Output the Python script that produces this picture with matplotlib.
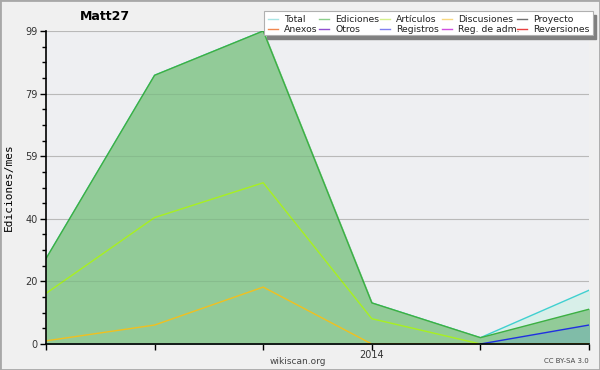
import matplotlib.pyplot as plt
from matplotlib.ticker import FixedLocator, MultipleLocator
from matplotlib.patches import Rectangle

# monthly points, only the 4th one is labelled "2014"
months = [0, 1, 2, 3, 4, 5]
xlabels = ['', '', '', '2014', '', '']

total = [27, 85, 99, 13, 2, 17]
ediciones = [27, 85, 99, 13, 2, 11]
articulos = [16, 40, 51, 8, 0, 0]
discusiones = [1, 6, 18, 0, 0, 0]
registros = [0, 0, 0, 0, 0, 6]

legend_names = ['Total', 'Ediciones', 'Artículos', 'Discusiones', 'Proyecto',
                'Anexos', 'Otros', 'Registros', 'Reg. de adm.', 'Reversiones']
legend_colors = ['#a8e4e4', '#8ccf8c', '#d4f08c', '#f8d880', '#707070',
                 '#f08850', '#9050d0', '#8080f0', '#d050e0', '#e84040']

fig = plt.figure(figsize=(6, 3.7), dpi=100, facecolor='#f0f0f0')
ax = fig.add_axes([46/600, 26/370, 543/600, 313/370])
ax.set_facecolor('#eeeff2')

# areas
ax.fill_between(months, total, color='#d8efe9', zorder=1)
ax.plot(months, total, color='#40d0d0', lw=1, zorder=2)
ax.fill_between(months, ediciones, color='#92cb98', zorder=3)
ax.plot(months, ediciones, color='#3cb043', lw=1, zorder=4)
ax.fill_between(months, registros, color='#80bca8', zorder=5)
ax.plot(months, articulos, color='#a8f020', lw=1, zorder=6)
ax.plot(months, discusiones, color='#f0c020', lw=1, zorder=6)
ax.plot(months[4:], registros[4:], color='#2030e0', lw=1, zorder=7)

ax.set_xlim(0, 5)
ax.set_ylim(0, 99)
ax.set_xticks(months)
ax.set_xticklabels(xlabels, fontsize=7, color='#333333')
yt = [0, 19.8, 39.6, 59.4, 79.2, 99]
ax.yaxis.set_major_locator(FixedLocator(yt))
ax.set_yticklabels(['0', '20', '40', '59', '79', '99'], fontsize=7, color='#333333')
ax.yaxis.set_minor_locator(MultipleLocator(4.95))
ax.tick_params(axis='y', which='major', length=4, width=1, pad=2)
ax.tick_params(axis='y', which='minor', length=3, width=1)
ax.tick_params(axis='x', length=4, width=1, pad=0.5)
for v in yt[1:]:
    ax.axhline(v, color='#c8c8c8', lw=0.8, zorder=0.5)
    ax.axhline(v, color='black', alpha=0.07, lw=0.8, zorder=8)
for s in ['top', 'right']:
    ax.spines[s].set_visible(False)
ax.spines['left'].set_linewidth(1.2)
ax.spines['bottom'].set_linewidth(1.2)
ax.spines['left'].set_zorder(9)
ax.spines['bottom'].set_zorder(9)
ax.set_ylabel('Ediciones/mes', fontsize=8, family='DejaVu Sans Mono', labelpad=8)

fig.text(105/600, 1 - 17/370, 'Matt27', fontsize=9, fontweight='bold', ha='center', va='center')
fig.text(298/600, 1 - 361/370, 'wikiscan.org', fontsize=6.5, color='#444444', ha='center', va='center')
fig.text(589/600, 1 - 361/370, 'CC BY-SA 3.0', fontsize=5, color='#444444', ha='right', va='center')

# legend box with shadow
lx0, ly0, lw, lh = 264, 11, 329, 24
fig.patches.append(Rectangle(((lx0 + 3)/600, 1 - (ly0 + lh + 4)/370), lw/600, lh/370,
                             transform=fig.transFigure, color='#808080', zorder=8))
fig.patches.append(Rectangle((lx0/600, 1 - (ly0 + lh)/370), lw/600, lh/370,
                             transform=fig.transFigure, facecolor='white',
                             edgecolor='#b0b0b0', lw=0.8, zorder=9))
col_x = [268, 319, 380, 442, 517]
row_y = [19, 29]
for i, (name, c) in enumerate(zip(legend_names, legend_colors)):
    r, k = divmod(i, 5)
    x = col_x[k]
    y = 1 - row_y[r]/370
    fig.lines.append(plt.Line2D([x/600, (x + 10)/600], [y, y], transform=fig.transFigure,
                                color=c, lw=1, zorder=10))
    fig.text((x + 16)/600, y, name, fontsize=6.7, color='#222222', va='center', ha='left', zorder=10)

# figure border
fig.patches.append(Rectangle((0, 0), 1, 1, transform=fig.transFigure, fill=False,
                             edgecolor='#a8a8a8', lw=2, zorder=20))

plt.savefig('out.png', dpi=100, facecolor=fig.get_facecolor())
